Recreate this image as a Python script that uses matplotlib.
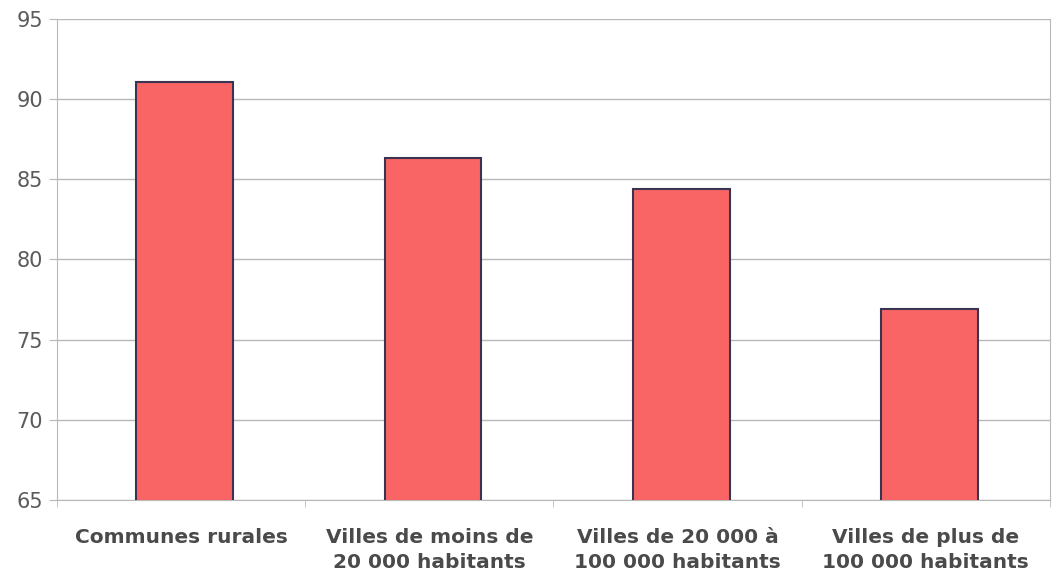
import numpy as np
import matplotlib.pyplot as plt

# Catégories et valeurs
categories = ["Communes rurales", "Villes de moins de\n20 000 habitants",
              "Villes de 20 000 à\n100 000 habitants", "Villes de plus de\n100 000 habitants"]
valeurs = [91.1, 86.3, 84.4, 76.9]
yticks = [65, 70, 75, 80, 85, 90, 95]

fig = plt.figure(figsize=(10.56, 5.76), dpi=100)
ax = fig.add_axes([0.054, 0.132, 0.94, 0.835])

x = np.arange(len(categories))
ax.bar(x + 0.015, valeurs, width=0.39, color="#f96565", edgecolor="#3b3352", linewidth=1.5, zorder=3)

ax.set_ylim(65, 95)
ax.set_xlim(-0.5, len(categories) - 0.5)
ax.set_yticks(yticks)
ax.yaxis.grid(True, color="#b8b8b8", linewidth=1, zorder=0)

ax.set_xticks(x)
ax.set_xticklabels(categories, fontsize=14.5, fontweight="bold", color="#4a4a4a", linespacing=1.45)
ax.set_xticks(np.arange(-0.5, len(categories)), minor=True)
ax.tick_params(axis="x", which="major", length=0, pad=20)
ax.tick_params(axis="x", which="minor", length=5, color="#b8b8b8")
ax.tick_params(axis="y", length=6, color="#b8b8b8", labelsize=15, labelcolor="#5a5a5a", pad=4)

ax.spines["top"].set_visible(False)
for s in ["left", "bottom", "right"]:
    ax.spines[s].set_color("#b8b8b8")

fig.savefig("out.png", dpi=100)
